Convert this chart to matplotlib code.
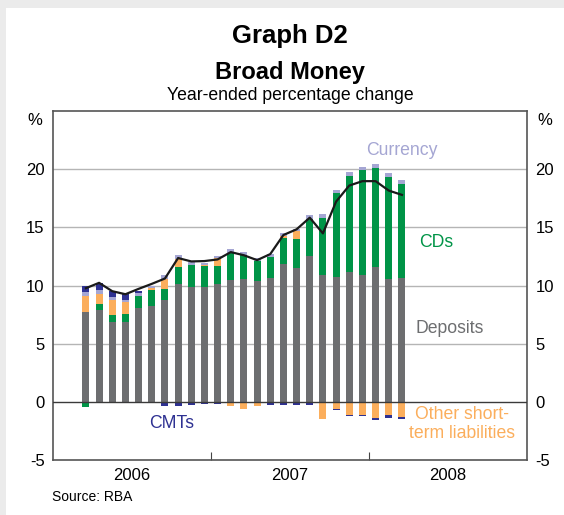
import matplotlib.pyplot as plt
import numpy as np
from matplotlib.patches import Rectangle

plt.rcParams["font.family"] = ["Liberation Sans", "DejaVu Sans"]
plt.rcParams["axes.unicode_minus"] = False

# monthly observations, Mar 2006 .. Mar 2008 (month index from Jan 2006)
months = np.arange(2, 27)

deposits = [7.70, 7.87, 6.90, 6.90, 8.10, 8.22, 8.79, 10.17, 9.91, 9.91, 10.09, 10.46, 10.55,
            10.37, 10.63, 11.84, 11.49, 12.53, 10.86, 10.72, 11.15, 10.86, 11.58, 10.55, 10.63]
cds = [-0.42, 0.52, 0.54, 0.63, 0.98, 1.38, 0.95, 1.38, 1.81, 1.73, 1.61, 2.33, 2.04,
       1.70, 1.81, 2.27, 2.51, 3.22, 4.94, 7.27, 8.30, 9.08, 8.53, 8.79, 8.13]
other = [1.44, 0.92, 1.30, 1.03, 0.0, 0.17, 0.78, 0.75, 0.08, 0.10, 0.66, -0.34, -0.65,
         -0.34, -0.12, 0.15, 0.66, 0.0, -1.47, -0.60, -1.12, -1.12, -1.38, -1.12, -1.29]
currency = [0.26, 0.29, 0.25, 0.18, 0.26, 0.17, 0.34, 0.29, 0.18, 0.20, 0.17, 0.31, 0.25,
            0.29, 0.27, 0.22, 0.20, 0.28, 0.32, 0.23, 0.29, 0.26, 0.35, 0.34, 0.32]
cmts = [0.60, 0.60, 0.58, 0.54, 0.23, 0.0, -0.32, -0.32, -0.23, -0.17, -0.17, 0.0, 0.0,
        0.0, -0.11, -0.23, -0.23, -0.23, 0.0, -0.09, -0.14, -0.14, -0.17, -0.23, -0.17]
broad_money = [9.77, 10.23, 9.51, 9.25, 9.71, 10.14, 10.6, 12.36, 12.07, 12.1, 12.24, 12.87, 12.6,
               12.18, 12.7, 14.34, 14.83, 15.83, 14.48, 17.21, 18.59, 18.97, 18.97, 18.16, 17.79]

years = ["2006", "2007", "2008"]

c_dep = "#6d6e70"
c_cds = "#009447"
c_oth = "#fbae5c"
c_cur = "#a5a6d3"
c_cmt = "#2e3192"

fig = plt.figure(figsize=(5.64, 5.15), dpi=100)
fig.patch.set_facecolor("#ebebeb")
fig.add_artist(Rectangle((6 / 564, 0), 1, 1 - 8 / 515, transform=fig.transFigure,
                         facecolor="white", edgecolor="none", zorder=-10))

ax = fig.add_axes([53 / 564, 55 / 515, 474 / 564, 349 / 515])

x = months + 0.5
pos_bottom = np.zeros(len(x))
neg_bottom = np.zeros(len(x))
for vals, col in [(deposits, c_dep), (cds, c_cds), (other, c_oth), (currency, c_cur), (cmts, c_cmt)]:
    v = np.array(vals)
    p = np.where(v > 0, v, 0)
    n = np.where(v < 0, v, 0)
    ax.bar(x, p, 0.53, bottom=pos_bottom, color=col, zorder=3, linewidth=0)
    ax.bar(x, n, 0.53, bottom=neg_bottom, color=col, zorder=3, linewidth=0)
    pos_bottom += p
    neg_bottom += n

ax.plot(x, broad_money, color="#1a1a1a", lw=1.6, zorder=4)

ax.set_xlim(0, 36)
ax.set_ylim(-5, 25)
ax.set_yticks([-5, 0, 5, 10, 15, 20])
for yv in [5, 10, 15, 20]:
    ax.axhline(yv, color="#b5b5b5", lw=1, zorder=1)
ax.axhline(0, color="#3a3a3a", lw=1, zorder=5)

ax.set_xticks([12, 24])
ax.set_xticklabels([])
ax.set_xticks([6, 18, 30], minor=True)
ax.set_xticklabels(years, minor=True, fontsize=12)
ax.tick_params(axis="x", which="major", direction="in", length=6, color="#444444")
ax.tick_params(axis="x", which="minor", length=0, pad=6)
ax.tick_params(axis="y", length=0, labelsize=12, labelleft=True, labelright=True, pad=6)

for s in ax.spines.values():
    s.set_color("#555555")
    s.set_linewidth(1.2)

ax.text(-0.8, 24.2, "%", ha="right", va="center", fontsize=12)
ax.text(36.8, 24.2, "%", ha="left", va="center", fontsize=12)

ax.text(26.5, 21.6, "Currency", color=c_cur, ha="center", va="center", fontsize=12.7)
ax.text(29.1, 13.7, "CDs", color=c_cds, ha="center", va="center", fontsize=12.7)
ax.text(30.1, 6.3, "Deposits", color=c_dep, ha="center", va="center", fontsize=12.7)
ax.text(31.1, -1.9, "Other short-\nterm liabilities", color=c_oth, ha="center", va="center",
        fontsize=12.7, linespacing=1.15)
ax.text(9.0, -1.9, "CMTs", color=c_cmt, ha="center", va="center", fontsize=12.7)

fig.text(290 / 564, 1 - 36 / 515, "Graph D2", ha="center", va="center", fontsize=18.5, fontweight="bold")
fig.text(290 / 564, 1 - 72 / 515, "Broad Money", ha="center", va="center", fontsize=17, fontweight="bold")
fig.text(290 / 564, 1 - 96 / 515, "Year-ended percentage change", ha="center", va="center", fontsize=12.7)
fig.text(52 / 564, 1 - 497 / 515, "Source: RBA", ha="left", va="center", fontsize=10)

fig.savefig("out.png", dpi=100, facecolor=fig.get_facecolor())
